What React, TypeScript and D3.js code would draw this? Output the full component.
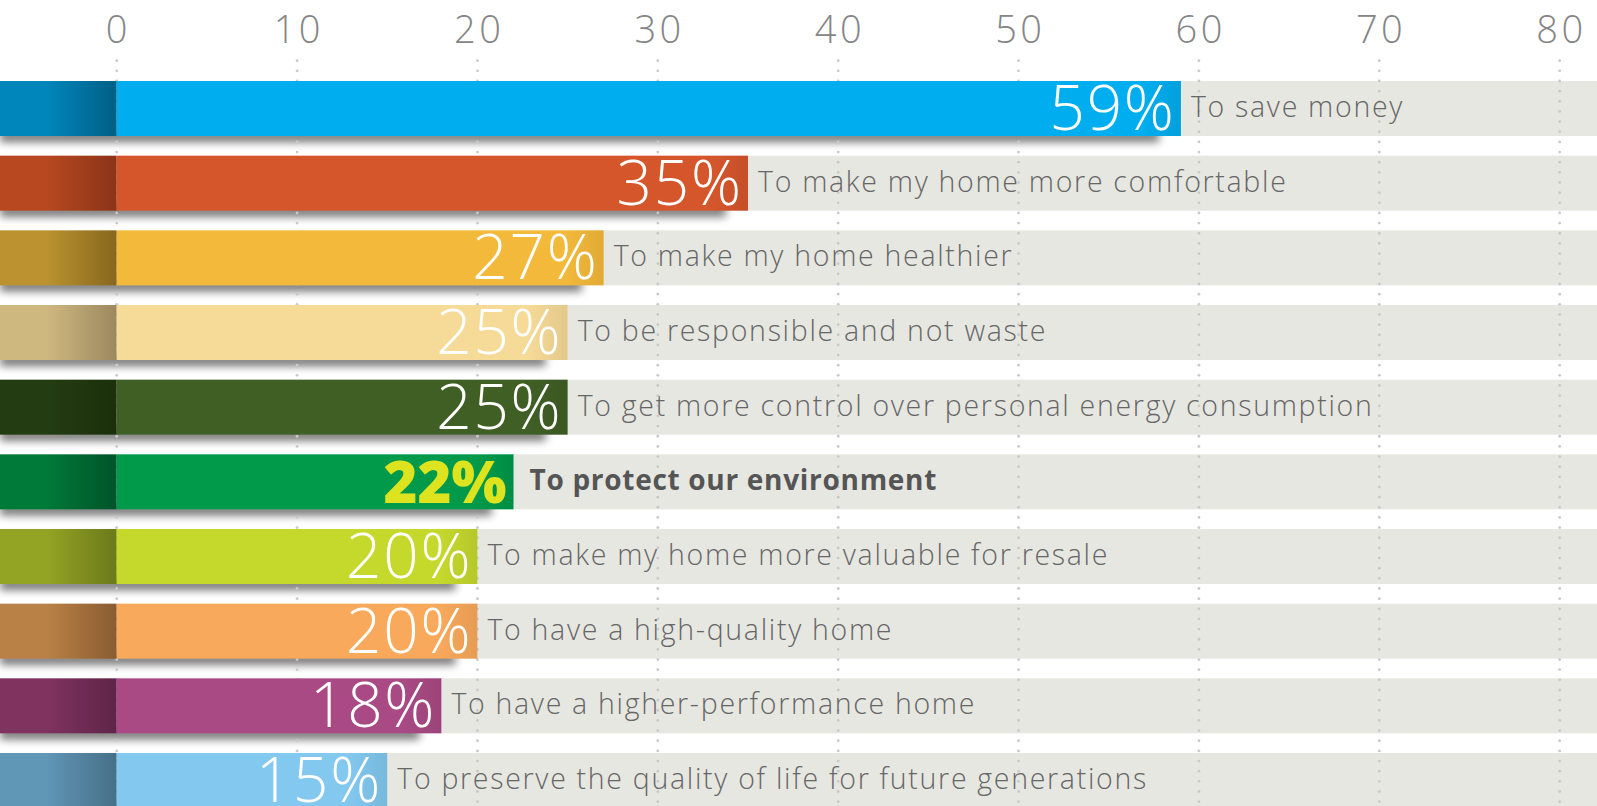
import React from "react";
import * as d3 from "d3";

const categories = [
  "To save money",
  "To make my home more comfortable",
  "To make my home healthier",
  "To be responsible and not waste",
  "To get more control over personal energy consumption",
  "To protect our environment",
  "To make my home more valuable for resale",
  "To have a high-quality home",
  "To have a higher-performance home",
  "To preserve the quality of life for future generations",
];
const values = [59, 35, 27, 25, 25, 22, 20, 20, 18, 15];
const tickValues = [0, 10, 20, 30, 40, 50, 60, 70, 80];
const highlighted = "To protect our environment";

const barColors = ["#00aeef", "#d6562c", "#f3b93a", "#f6da97", "#405f25", "#009a4a", "#c5d92d", "#f9a95b", "#a94a84", "#82c8ef"];
const tabLight = ["#0086bb", "#b7481f", "#bb922f", "#cfb87f", "#243c12", "#007a38", "#93a323", "#b98145", "#80335f", "#6096b6"];
const tabDark = ["#005f85", "#8a3419", "#87671f", "#9c8860", "#1a300b", "#00532a", "#6b7a1b", "#8a5c32", "#5f2448", "#466f87"];

const W = 1597;
const H = 806;
const FONT = "'Open Sans', Lato, sans-serif";

export default function App() {
  const x = d3.scaleLinear().domain([0, 80]).range([116.7, 1559.7]);
  const y = d3.scaleBand<string>().domain(categories).range([81, 808]).paddingInner(0.263).paddingOuter(0);
  const bw = y.bandwidth();
  const x0 = x(0);
  const dotYs = d3.range(60.7, H, 10.15);
  const tickLS = 3.5;
  const pctLS = 1.8;

  return (
    <div style={{ position: "fixed", left: 0, top: 0, width: W, height: H, background: "#fff" }}>
      <svg width={W} height={H} style={{ display: "block" }}>
        <defs>
          <filter id="shadowBlur" x="-10%" y="-200%" width="120%" height="500%">
            <feGaussianBlur stdDeviation="4" />
          </filter>
          {categories.map((c, i) => (
            <linearGradient key={c} id={`tab${i}`} x1="0" x2="1" y1="0" y2="0">
              <stop offset="0" stopColor={tabLight[i]} />
              <stop offset="0.4" stopColor={tabLight[i]} />
              <stop offset="1" stopColor={tabDark[i]} />
            </linearGradient>
          ))}
          <linearGradient id="endShade" x1="0" x2="1" y1="0" y2="0">
            <stop offset="0" stopColor="#000" stopOpacity="0" />
            <stop offset="1" stopColor="#000" stopOpacity="0.08" />
          </linearGradient>
        </defs>

        {/* tick labels */}
        {tickValues.map((t) => (
          <text
            key={t}
            x={x(t) + tickLS / 2}
            y={43}
            textAnchor="middle"
            fontFamily={FONT}
            fontWeight={300}
            fontSize={38}
            letterSpacing={tickLS}
            fill="#858585"
          >
            {t}
          </text>
        ))}

        {/* grey background bands */}
        {categories.map((c, i) => (
          <rect key={c} x={x(values[i])} y={y(c)} width={W - x(values[i])} height={bw} fill="#e7e7e2" />
        ))}

        {/* shadows */}
        {categories.map((c, i) => (
          <rect
            key={c}
            x={0}
            y={(y(c) as number) + bw - 5}
            width={x(values[i]) - 22}
            height={11}
            fill="#000"
            opacity={0.55}
            filter="url(#shadowBlur)"
          />
        ))}

        {/* dotted gridlines */}
        {tickValues.map((t) => (
          <g key={t}>
            {dotYs.map((dy, k) => (
              <circle key={k} cx={x(t)} cy={dy} r={1.4} fill="#c9c9c9" />
            ))}
          </g>
        ))}

        {/* bars */}
        {categories.map((c, i) => {
          const yy = y(c) as number;
          const xe = x(values[i]);
          const hl = c === highlighted;
          return (
            <g key={c}>
              <rect x={0} y={yy} width={x0} height={bw} fill={`url(#tab${i})`} />
              <rect x={x0} y={yy} width={xe - x0} height={bw} fill={barColors[i]} />
              <rect x={xe - 40} y={yy} width={40} height={bw} fill="url(#endShade)" />
              <text
                x={xe - 7 + (hl ? 0 : pctLS)}
                y={yy + bw - 6}
                textAnchor="end"
                fontFamily={FONT}
                fontWeight={hl ? 800 : 300}
                fontSize={hl ? 58 : 62}
                letterSpacing={hl ? 0 : pctLS}
                fill={hl ? "#dde41f" : "#ffffff"}
              >
                {values[i]}%
              </text>
              <text
                x={xe + (hl ? 16 : 10)}
                y={yy + 36}
                fontFamily={FONT}
                fontWeight={hl ? 700 : 300}
                fontSize={hl ? 28 : 28.5}
                letterSpacing={hl ? 0.7 : 1.7}
                fill={hl ? "#555555" : "#666666"}
              >
                {c}
              </text>
            </g>
          );
        })}
      </svg>
    </div>
  );
}
